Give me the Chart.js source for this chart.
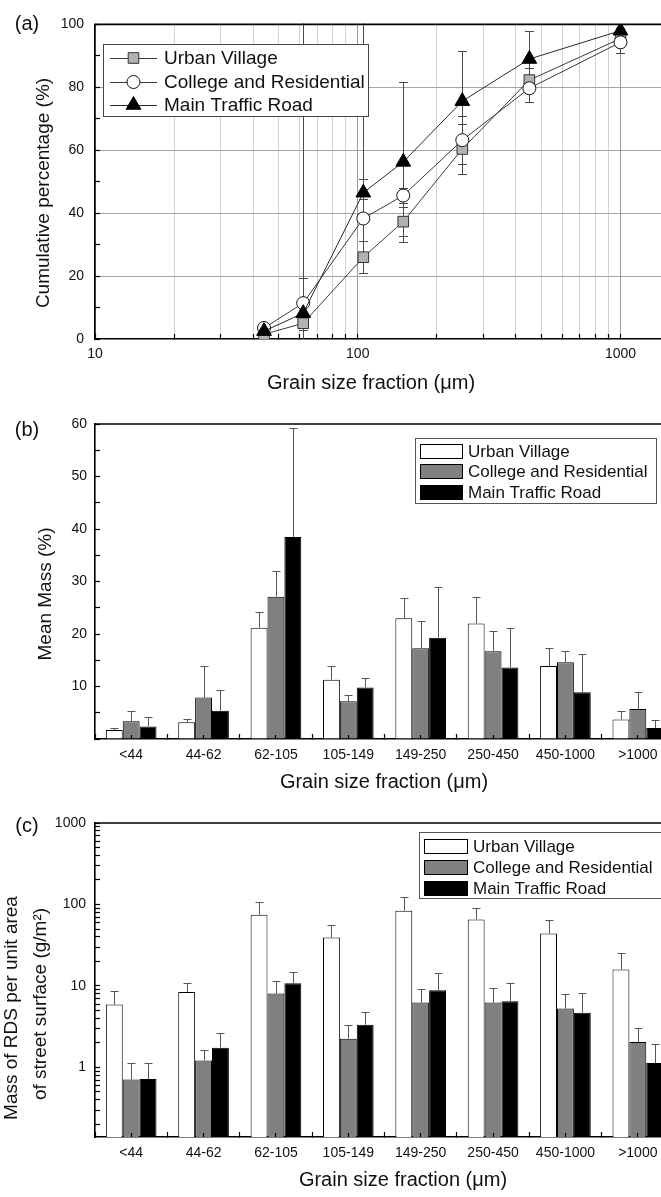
<!DOCTYPE html>
<html>
<head>
<meta charset="utf-8">
<script src="https://cdn.jsdelivr.net/npm/chart.js@4.4.1/dist/chart.umd.min.js"></script>
<style>
html, body { margin: 0; padding: 0; background: #fff; overflow: hidden; }
#page { position: relative; width: 661px; height: 1197px; overflow: hidden; background: #fff;
        font-family: "Liberation Sans", Arial, Helvetica, sans-serif; color: #111; }
canvas { position: absolute; left: 0; }
.t { position: absolute; white-space: nowrap; line-height: 1; transform: translate(-50%, -50%); }
.r { transform: translate(-50%, -50%) rotate(-90deg); }
</style>
</head>
<body>
<div id="page">
  <canvas id="ca" width="680" height="395" style="top:0px"></canvas>
  <canvas id="cb" width="680" height="380" style="top:395px"></canvas>
  <canvas id="cc" width="680" height="422" style="top:775px"></canvas>

  <div class="t" style="left:27px; top:23px; font-size:20px;">(a)</div>
  <div class="t" style="left:27px; top:429px; font-size:20px;">(b)</div>
  <div class="t" style="left:27px; top:825px; font-size:20px;">(c)</div>

  <div class="t r" style="left:42px; top:193px; font-size:19px;">Cumulative percentage (%)</div>
  <div class="t r" style="left:44px; top:594px; font-size:19px;">Mean Mass (%)</div>
  <div class="t r" style="left:10px; top:1008px; font-size:19px;">Mass of RDS per unit area</div>
  <div class="t r" style="left:39px; top:1004px; font-size:19px;">of street surface (g/m²)</div>

  <div class="t" style="left:371px; top:382px; font-size:20px;">Grain size fraction (μm)</div>
  <div class="t" style="left:384px; top:781px; font-size:20px;">Grain size fraction (μm)</div>
  <div class="t" style="left:403px; top:1179px; font-size:20px;">Grain size fraction (μm)</div>
</div>
<script>
// ---------------- Panel (a): cumulative percentage ----------------
const sizeFractionsUm = [44, 62, 105, 149, 250, 450, 1000];
const cumUrbanVillage = [1.5, 5.0, 26.0, 37.3, 60.4, 82.3, 95.5];
const cumCollegeResidential = [3.5, 11.4, 38.3, 45.6, 63.2, 79.7, 94.3];
const cumMainTrafficRoad = [2.5, 8.2, 46.5, 56.3, 75.6, 89.0, 98.0];
// upper / lower error amounts
const cumErrUpUrbanVillage = [1.0, 2.2, 5.0, 4.5, 7.9, 4.0, 1.5];
const cumErrDownUrbanVillage = [1.0, 2.2, 5.0, 4.5, 7.9, 4.0, 1.5];
const cumErrUpCollegeResidential = [1.5, 8.0, 12.7, 2.5, 7.6, 4.3, 3.3];
const cumErrDownCollegeResidential = [1.5, 8.0, 12.7, 2.5, 7.6, 4.3, 3.3];
const cumErrUpMainTrafficRoad = [1.5, 95.0, 60.0, 25.5, 16.0, 9.0, 1.0];
const cumErrDownMainTrafficRoad = [1.5, 95.0, 2.0, 25.5, 16.0, 9.0, 1.0];
const xTickValuesA = [10, 20, 30, 40, 50, 60, 70, 80, 90, 100, 200, 300, 400, 500, 600, 700, 800, 900, 1000];
const xTickLabelsA = [10, 100, 1000];
const yTickValuesA = [0, 10, 20, 30, 40, 50, 60, 70, 80, 90, 100];
const yTickLabelsA = [0, 20, 40, 60, 80, 100];
const yGridValuesA = [20, 40, 60, 80];

// ---------------- Panel (b): mean mass percentage ----------------
const fractionLabels = ['<44', '44-62', '62-105', '105-149', '149-250', '250-450', '450-1000', '>1000'];
const massUrbanVillage = [1.7, 3.2, 21.2, 11.3, 23.0, 22.0, 13.9, 3.7];
const massCollegeResidential = [3.4, 7.9, 27.1, 7.2, 17.3, 16.7, 14.6, 5.7];
const massMainTrafficRoad = [2.4, 5.4, 38.5, 9.8, 19.3, 13.6, 8.9, 2.1];
const massErrUrbanVillage = [0.4, 0.7, 3.0, 2.6, 3.9, 5.1, 3.5, 1.6];
const massErrCollegeResidential = [1.9, 6.0, 4.9, 1.2, 5.1, 3.9, 2.2, 3.2];
const massErrMainTrafficRoad = [1.7, 4.0, 20.7, 1.9, 9.7, 7.6, 7.2, 1.6];
const yTickValuesB = [0, 5, 10, 15, 20, 25, 30, 35, 40, 45, 50, 55, 60];
const yTickLabelsB = [10, 20, 30, 40, 50, 60];

// ---------------- Panel (c): RDS mass per unit area ----------------
const rdsUrbanVillage = [5.9, 8.4, 75.0, 39.4, 83.7, 65.5, 44.0, 15.9];
const rdsCollegeResidential = [0.71, 1.22, 8.06, 2.25, 6.25, 6.25, 5.27, 2.05];
const rdsMainTrafficRoad = [0.72, 1.75, 10.8, 3.35, 8.85, 6.48, 4.7, 1.13];
const rdsErrUrbanVillage = [2.7, 2.5, 33.0, 16.0, 40.0, 24.0, 20.0, 9.6];
const rdsErrCollegeResidential = [0.42, 0.43, 3.5, 1.1, 3.05, 3.25, 2.8, 1.0];
const rdsErrMainTrafficRoad = [0.41, 0.89, 3.9, 1.45, 5.75, 4.4, 3.5, 0.8];
const yTickValuesC = [0.2, 0.3, 0.4, 0.5, 0.6, 0.7, 0.8, 0.9, 1, 2, 3, 4, 5, 6, 7, 8, 9,
                      10, 20, 30, 40, 50, 60, 70, 80, 90, 100, 200, 300, 400, 500, 600, 700, 800, 900, 1000];
const yTickLabelsC = [1, 10, 100, 1000];

// ---------------- helpers & plugins ----------------
Chart.defaults.font.family = '"Liberation Sans", Arial, Helvetica, sans-serif';
Chart.defaults.color = '#111';

const tickFont = { size: 14 };
const setTicks = (values) => (scale) => { scale.ticks = values.map(v => ({ value: v })); };

function drawMarker(ctx, style, r, x, y, fill, stroke) {
  ctx.beginPath();
  if (style === 'rect') {
    const s = r * Math.SQRT1_2;
    ctx.rect(x - s, y - s, 2 * s, 2 * s);
  } else if (style === 'triangle') {
    const a = 2 * Math.PI / 3;
    ctx.moveTo(x, y - r);
    ctx.lineTo(x + r * Math.sin(a), y - r * Math.cos(a));
    ctx.lineTo(x - r * Math.sin(a), y - r * Math.cos(a));
    ctx.closePath();
  } else {
    ctx.arc(x, y, r, 0, Math.PI * 2);
  }
  ctx.fillStyle = fill; ctx.fill();
  ctx.strokeStyle = stroke; ctx.lineWidth = 1; ctx.stroke();
}

function drawErrorBars(chart, o) {
  const ctx = chart.ctx, ca = chart.chartArea, ys = chart.scales.y;
  ctx.save();
  ctx.beginPath();
  ctx.rect(ca.left, ca.top - 1, chart.width - ca.left, ca.bottom - ca.top + 1);
  ctx.clip();
  ctx.strokeStyle = o.color;
  ctx.lineWidth = o.width;
  o.errors.forEach((errs, di) => {
    const meta = chart.getDatasetMeta(di);
    const vals = chart.data.datasets[di].data;
    const lows = o.errorsLow ? o.errorsLow[di] : null;
    meta.data.forEach((el, j) => {
      const raw = vals[j];
      const v = (typeof raw === 'object') ? raw.y : raw;
      const e = errs[j];
      const x = Math.round(el.x) + 0.5;
      const yTop = Math.round(ys.getPixelForValue(v + e)) + 0.5;
      const yBot = lows ? Math.round(ys.getPixelForValue(v - lows[j])) + 0.5 : ys.getPixelForValue(v);
      const h = o.cap / 2;
      ctx.beginPath();
      ctx.moveTo(x, yBot); ctx.lineTo(x, yTop);
      ctx.moveTo(x - h, yTop); ctx.lineTo(x + h, yTop);
      if (lows) { ctx.moveTo(x - h, yBot); ctx.lineTo(x + h, yBot); }
      ctx.stroke();
    });
  });
  ctx.restore();
}

const errorBars = {
  id: 'errorBars',
  beforeDatasetsDraw(chart, args, o) { if (o && o.errors && o.phase === 'before') drawErrorBars(chart, o); },
  afterDatasetsDraw(chart, args, o) { if (o && o.errors && o.phase !== 'before') drawErrorBars(chart, o); }
};

const topFrame = {
  id: 'topFrame',
  afterDraw(chart) {
    const { ctx, chartArea: ca } = chart;
    ctx.save();
    ctx.strokeStyle = '#000';
    ctx.lineWidth = 1.6;
    ctx.beginPath();
    ctx.moveTo(ca.left - 0.8, ca.top);
    ctx.lineTo(chart.width, ca.top);
    ctx.stroke();
    ctx.restore();
  }
};

const boxLegend = {
  id: 'boxLegend',
  afterDraw(chart, args, o) {
    if (!o || !o.rows) return;
    const ctx = chart.ctx;
    ctx.save();
    ctx.fillStyle = '#fff';
    ctx.fillRect(o.x, o.y, o.w, o.h);
    ctx.strokeStyle = o.border;
    ctx.lineWidth = 1;
    ctx.strokeRect(o.x + 0.5, o.y + 0.5, o.w, o.h);
    ctx.font = o.font;
    ctx.textBaseline = 'middle';
    chart.data.datasets.forEach((ds, i) => {
      const cy = o.rows[i];
      if (o.kind === 'line') {
        ctx.strokeStyle = ds.borderColor;
        ctx.lineWidth = 1;
        ctx.beginPath();
        ctx.moveTo(o.sx, cy + 0.5); ctx.lineTo(o.sx + o.sw, cy + 0.5);
        ctx.stroke();
        drawMarker(ctx, ds.pointStyle, ds.pointRadius, o.sx + o.sw / 2, cy, ds.pointBackgroundColor, ds.pointBorderColor);
      } else {
        ctx.fillStyle = ds.backgroundColor;
        ctx.fillRect(o.sx, cy - o.sh / 2, o.sw, o.sh);
        ctx.strokeStyle = '#000';
        ctx.lineWidth = 1;
        ctx.strokeRect(o.sx + 0.5, Math.round(cy - o.sh / 2) + 0.5, o.sw, o.sh);
      }
      ctx.fillStyle = '#111';
      ctx.fillText(ds.label, o.tx, cy + 1);
    });
    ctx.restore();
  }
};

const axisBorder = { display: true, color: '#000', width: 1.6 };
const legendFont19 = '19px "Liberation Sans", Arial, sans-serif';
const legendFont17 = '17px "Liberation Sans", Arial, sans-serif';

// ---------------- Chart (a) ----------------
new Chart(document.getElementById('ca'), {
  type: 'line',
  data: {
    datasets: [
      { label: 'Urban Village', order: 2,
        data: sizeFractionsUm.map((x, i) => ({ x: x, y: cumUrbanVillage[i] })),
        borderColor: '#3a3a3a', borderWidth: 1, pointStyle: 'rect', pointRadius: 7.5,
        pointBackgroundColor: '#b2b2b2', pointBorderColor: '#333', pointBorderWidth: 1 },
      { label: 'College and Residential', order: 1,
        data: sizeFractionsUm.map((x, i) => ({ x: x, y: cumCollegeResidential[i] })),
        borderColor: '#3a3a3a', borderWidth: 1, pointStyle: 'circle', pointRadius: 6.5,
        pointBackgroundColor: '#ffffff', pointBorderColor: '#111', pointBorderWidth: 1 },
      { label: 'Main Traffic Road', order: 0,
        data: sizeFractionsUm.map((x, i) => ({ x: x, y: cumMainTrafficRoad[i] })),
        borderColor: '#2a2a2a', borderWidth: 1, pointStyle: 'triangle', pointRadius: 8.5,
        pointBackgroundColor: '#000000', pointBorderColor: '#000', pointBorderWidth: 1 }
    ]
  },
  options: {
    responsive: false, animation: false, devicePixelRatio: 1,
    layout: { padding: { left: 0, right: 6, top: 23, bottom: 0 } },
    plugins: {
      legend: { display: false }, tooltip: { enabled: false },
      errorBars: { phase: 'before', color: '#4a4a4a', width: 1, cap: 9,
                   errors: [cumErrUpUrbanVillage, cumErrUpCollegeResidential, cumErrUpMainTrafficRoad],
                   errorsLow: [cumErrDownUrbanVillage, cumErrDownCollegeResidential, cumErrDownMainTrafficRoad] },
      boxLegend: { kind: 'line', x: 103, y: 44, w: 265, h: 72, rows: [58, 82, 105],
                   sx: 110, sw: 47, tx: 164, font: legendFont19, border: '#444' }
    },
    scales: {
      x: {
        type: 'logarithmic', min: 10, max: 1550, bounds: 'data', position: 'bottom',
        afterBuildTicks: setTicks(xTickValuesA),
        afterFit: (s) => { s.height = 56; },
        grid: { drawOnChartArea: true, lineWidth: 1, tickLength: -5, tickColor: '#000', tickWidth: 1.2,
                color: (c) => (c.tick && xTickLabelsA.includes(c.tick.value)) ? '#9a9a9a' : '#d2d2d2' },
        border: axisBorder,
        ticks: { autoSkip: false, maxRotation: 0, padding: 12, font: tickFont, color: '#111',
                 callback: (v) => xTickLabelsA.includes(v) ? String(v) : '' }
      },
      y: {
        type: 'linear', min: 0, max: 100, bounds: 'data',
        afterBuildTicks: setTicks(yTickValuesA),
        afterFit: (s) => { s.width = 95; },
        grid: { drawOnChartArea: true, lineWidth: 1, tickLength: -5, tickColor: '#000', tickWidth: 1.2,
                color: (c) => (c.tick && yGridValuesA.includes(c.tick.value)) ? '#a4a4a4' : 'rgba(0,0,0,0)' },
        border: axisBorder,
        ticks: { autoSkip: false, padding: 16, font: tickFont, color: '#111',
                 callback: (v) => yTickLabelsA.includes(v) ? String(v) : '' }
      }
    }
  },
  plugins: [errorBars, topFrame, boxLegend]
});

// ---------------- bar chart factory for (b) and (c) ----------------
function barChart(id, values, errs, yScale, padTop, xHeight, labelPad, legendOpts) {
  return new Chart(document.getElementById(id), {
    type: 'bar',
    data: {
      labels: fractionLabels,
      datasets: [
        { label: 'Urban Village', data: values[0], backgroundColor: '#ffffff', borderColor: '#000', borderWidth: 1 },
        { label: 'College and Residential', data: values[1], backgroundColor: '#808080', borderColor: '#000', borderWidth: 1 },
        { label: 'Main Traffic Road', data: values[2], backgroundColor: '#000000', borderColor: '#000', borderWidth: 1 }
      ]
    },
    options: {
      responsive: false, animation: false, devicePixelRatio: 1,
      datasets: { bar: { categoryPercentage: 0.7, barPercentage: 1.0 } },
      layout: { padding: { left: 0, right: 6, top: padTop, bottom: 0 } },
      plugins: {
        legend: { display: false }, tooltip: { enabled: false },
        errorBars: { phase: 'after', color: '#555', width: 1, cap: 8, errors: errs },
        boxLegend: legendOpts
      },
      scales: {
        x: {
          type: 'category', position: 'bottom', weight: 1, offset: true,
          afterFit: (s) => { s.height = xHeight; },
          grid: { offset: true, drawOnChartArea: false, tickLength: -5, tickColor: '#000', tickWidth: 1.2 },
          border: axisBorder,
          ticks: { autoSkip: false, maxRotation: 0, padding: labelPad, font: tickFont, color: '#111' }
        },
        xc: {
          type: 'category', position: 'bottom', weight: 0, offset: true,
          afterFit: (s) => { s.height = 0; },
          grid: { offset: false, drawOnChartArea: false, tickLength: -4, tickColor: '#000', tickWidth: 1.2, z: 1 },
          border: { display: false },
          ticks: { display: false }
        },
        y: yScale
      }
    },
    plugins: [errorBars, topFrame, boxLegend]
  });
}

// ---------------- Chart (b) ----------------
barChart('cb',
  [massUrbanVillage, massCollegeResidential, massMainTrafficRoad],
  [massErrUrbanVillage, massErrCollegeResidential, massErrMainTrafficRoad],
  {
    type: 'linear', min: 0, max: 60, bounds: 'data',
    afterBuildTicks: setTicks(yTickValuesB),
    afterFit: (s) => { s.width = 95; },
    grid: { drawOnChartArea: false, tickLength: -5, tickColor: '#000', tickWidth: 1.2 },
    border: axisBorder,
    ticks: { autoSkip: false, padding: 13, font: tickFont, color: '#111',
             callback: (v) => yTickLabelsB.includes(v) ? String(v) : '' }
  },
  29, 36, 13,
  { kind: 'box', x: 415, y: 43, w: 241, h: 65, rows: [56, 76, 97],
    sx: 420, sw: 42, sh: 14, tx: 468, font: legendFont17, border: '#555' }
);

// ---------------- Chart (c) ----------------
barChart('cc',
  [rdsUrbanVillage, rdsCollegeResidential, rdsMainTrafficRoad],
  [rdsErrUrbanVillage, rdsErrCollegeResidential, rdsErrMainTrafficRoad],
  {
    type: 'logarithmic', min: 0.14, max: 1000, bounds: 'data',
    afterBuildTicks: setTicks(yTickValuesC),
    afterFit: (s) => { s.width = 95; },
    grid: { drawOnChartArea: false, tickLength: -5, tickColor: '#000', tickWidth: 1.2 },
    border: axisBorder,
    ticks: { autoSkip: false, padding: 14, font: tickFont, color: '#111',
             callback: (v) => yTickLabelsC.includes(v) ? String(v) : '' }
  },
  48, 60, 13,
  { kind: 'box', x: 419, y: 57, w: 243, h: 66, rows: [71, 92, 113],
    sx: 424, sw: 43, sh: 14, tx: 473, font: legendFont17, border: '#555' }
);
</script>
</body>
</html>
